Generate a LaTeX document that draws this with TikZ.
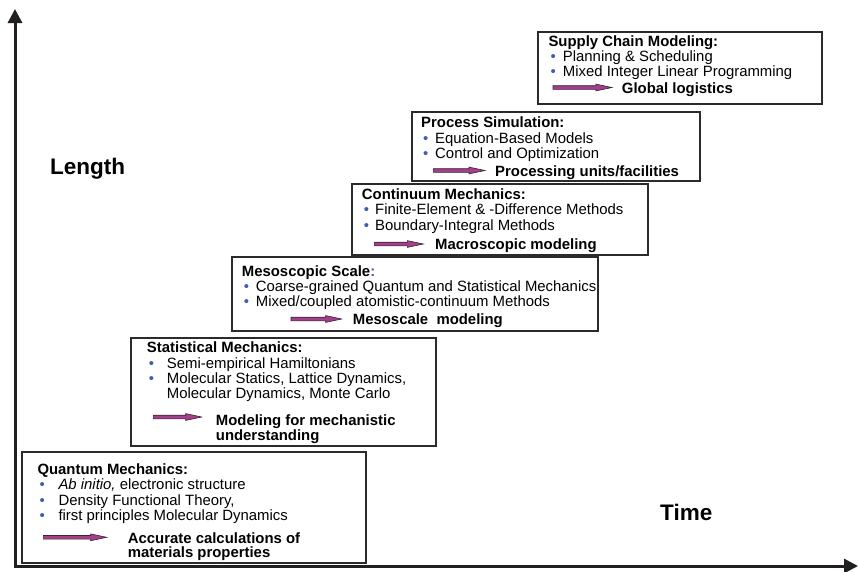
\documentclass[tikz,border=0pt]{standalone}
\usepackage{fontspec}
\setmainfont{Liberation Sans}
\usetikzlibrary{arrows.meta,calc}

\definecolor{bulblue}{HTML}{3F5DAF}
\definecolor{magfill}{HTML}{A3408A}
\definecolor{magline}{HTML}{3A2238}
\definecolor{axisc}{HTML}{231F20}
\definecolor{boxline}{HTML}{2B2B2B}

% bullet item: fixed-width bullet column, then the text
\newcommand\bul[2]{\makebox[#1][l]{\hspace{2pt}\textcolor{bulblue}{\textbullet}}#2}
% slim outlined arrow between two named coordinates
\newcommand\magarrow[2]{%
  \filldraw[fill=magfill, draw=magline, line width=0.6pt, line join=miter]
    ($(#1)+(0,-1.8)$) -- ($(#2)+(-16,-1.8)$) -- ($(#2)+(-16,-3.4)$) -- (#2)
    -- ($(#2)+(-16,3.4)$) -- ($(#2)+(-16,1.8)$) -- ($(#1)+(0,1.8)$) -- cycle;}

\begin{document}
\begin{tikzpicture}[x=1pt,y=-1pt,
  scalebox/.style={draw=boxline, line width=1.1pt, fill=white, inner sep=0pt,
    outer sep=0pt, anchor=north west},
  bodytext/.style={inner sep=0pt, anchor=north west, align=left,
    font=\fontsize{14.9}{15.4}\selectfont},
  outcome/.style={inner sep=0pt, anchor=north west, align=left,
    font=\fontsize{14.9}{14.6}\selectfont\bfseries},
  axislabel/.style={inner sep=0pt, anchor=north west,
    font=\fontsize{22.5}{22.5}\selectfont\bfseries},
  axisline/.style={draw=axisc, line width=3pt,
    -{Triangle[length=14pt,width=14pt]}}]
\useasboundingbox (0,0) rectangle (858,571);

% ---- scale boxes ----
\node[scalebox, minimum width=284pt, minimum height=72pt] (sc-box) at (538,32) {};
\node[scalebox, minimum width=288pt, minimum height=69pt] (ps-box) at (412,112) {};
\node[scalebox, minimum width=296pt, minimum height=71pt] (cm-box) at (352,184) {};
\node[scalebox, minimum width=366pt, minimum height=74pt] (ms-box) at (232,257) {};
\node[scalebox, minimum width=305pt, minimum height=108pt] (sm-box) at (131,338) {};
\node[scalebox, minimum width=344pt, minimum height=111pt] (qm-box) at (22,452) {};

% ---- box contents ----
\node[bodytext] (sc-text) at (548.3,35) {\textbf{Supply Chain Modeling:}\\
  \bul{14.4pt}{Planning \& Scheduling}\\
  \bul{14.4pt}{Mixed Integer Linear Programming}};
\node[bodytext] (ps-text) at (421,116.7) {\textbf{Process Simulation:}\\
  \bul{14pt}{Equation-Based Models}\\
  \bul{14pt}{Control and Optimization}};
\node[bodytext] (cm-text) at (361.7,188.3) {\textbf{Continuum Mechanics:}\\
  \bul{13.3pt}{Finite-Element \& -Difference Methods}\\
  \bul{13.3pt}{Boundary-Integral Methods}};
\node[bodytext] (ms-text) at (241.7,265) {\textbf{Mesoscopic Scale}\textcolor{bulblue}{\textbf{:}}\\
  \bul{14pt}{Coarse-grained Quantum and Statistical Mechanics}\\
  \bul{14pt}{Mixed/coupled atomistic-continuum Methods}};
\node[bodytext] (sm-text) at (146.7,341.7) {\textbf{Statistical Mechanics:}\\
  \bul{20pt}{Semi-empirical Hamiltonians}\\
  \bul{20pt}{Molecular Statics, Lattice Dynamics,}\\
  \hspace*{20pt}Molecular Dynamics, Monte Carlo};
\node[bodytext] (qm-text) at (37.3,463.3) {\textbf{Quantum Mechanics:}\\
  \bul{21pt}{\textit{Ab initio,} electronic structure}\\
  \bul{21pt}{Density Functional Theory,}\\
  \bul{21pt}{first principles Molecular Dynamics}};

% ---- outcomes ----
\node[outcome] (sc-out) at (621.7,82.8) {Global logistics};
\node[outcome] (ps-out) at (495,165.8) {Processing units/facilities};
\node[outcome] (cm-out) at (435,238.8) {Macroscopic modeling};
\node[outcome] (ms-out) at (352.7,313.8) {Mesoscale\ \ modeling};
\node[outcome] (sm-out) at (215.7,414.8) {Modeling for mechanistic\\understanding};
\node[outcome] (qm-out) at (127.7,532.3) {Accurate calculations of\\materials properties};

\coordinate (sc-a) at (553,87.5);   \coordinate (sc-b) at (612,87.5);
\coordinate (ps-a) at (433.3,170.5);\coordinate (ps-b) at (485,170.5);
\coordinate (cm-a) at (374.3,244);  \coordinate (cm-b) at (423.3,244);
\coordinate (ms-a) at (291,319);    \coordinate (ms-b) at (341.7,319);
\coordinate (sm-a) at (153.3,417);  \coordinate (sm-b) at (201.7,417);
\coordinate (qm-a) at (43.3,537.3); \coordinate (qm-b) at (106.7,537.3);
\magarrow{sc-a}{sc-b}
\magarrow{ps-a}{ps-b}
\magarrow{cm-a}{cm-b}
\magarrow{ms-a}{ms-b}
\magarrow{sm-a}{sm-b}
\magarrow{qm-a}{qm-b}

% ---- axes ----
\coordinate (origin) at (15,566);
\coordinate (ytip) at (15,9);
\coordinate (xtip) at (858,566);
\draw[axisline] (origin) -- (ytip);
\draw[axisline] ([xshift=-1.5pt]origin) -- (xtip);
\node[axislabel] (len) at (50,158) {Length};
\node[axislabel] (time) at (660,504) {Time};
\end{tikzpicture}
\end{document}
